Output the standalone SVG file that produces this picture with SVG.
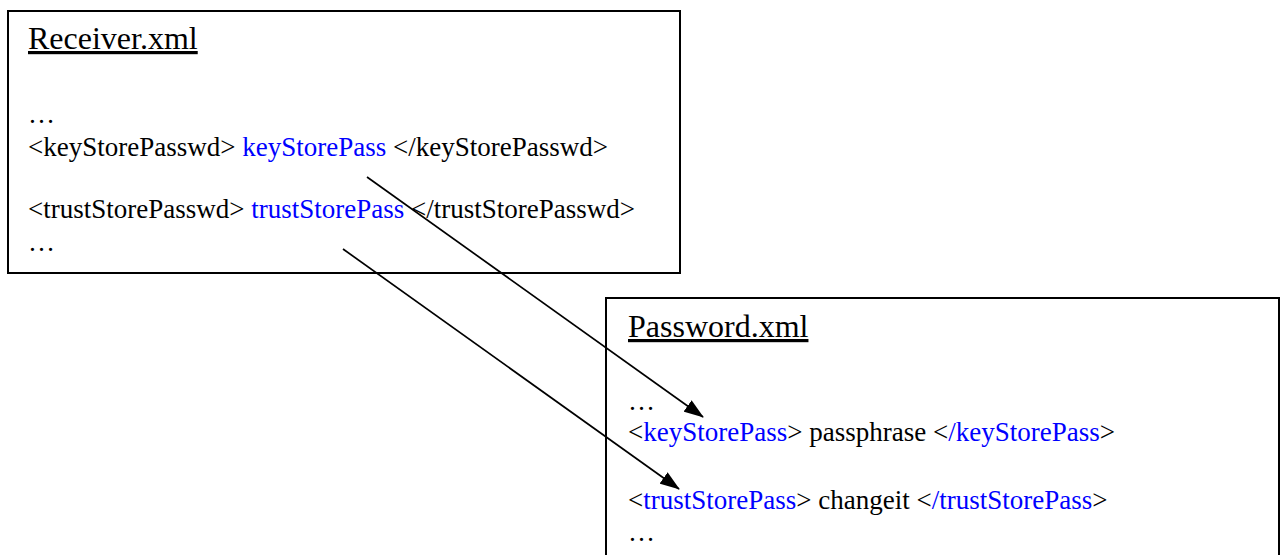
<svg xmlns="http://www.w3.org/2000/svg" width="1281" height="555" viewBox="0 0 1281 555">
<style>
.box{fill:#fff;stroke:#000;stroke-width:2}
.t{font-family:"Liberation Serif","Times New Roman",serif;fill:#000}
.title{font-size:32px;text-decoration:underline}
.body{font-size:27px}
.b{fill:#0000ff}
.conn{stroke:#000;stroke-width:1.7;fill:none}
</style>
<defs>
<marker id="ah" viewBox="0 0 20 14" refX="19" refY="7" markerWidth="20" markerHeight="14" markerUnits="userSpaceOnUse" orient="auto">
<path d="M0,0 L20,7 L0,14 z" fill="#000"/>
</marker>
</defs>
<rect width="1281" height="555" fill="#fff"/>
<g id="receiver">
<rect class="box" x="8" y="11" width="672" height="262"/>
<text class="t title" x="28" y="49">Receiver.xml</text>
<text class="t body" x="28" y="123">…</text>
<text class="t body" x="28" y="156">&lt;keyStorePasswd&gt; <tspan class="b">keyStorePass</tspan> &lt;/keyStorePasswd&gt;</text>
<text class="t body" x="28" y="218">&lt;trustStorePasswd&gt; <tspan class="b">trustStorePass</tspan> &lt;/trustStorePasswd&gt;</text>
<text class="t body" x="28" y="251">…</text>
</g>
<g id="password">
<rect class="box" x="606" y="298" width="673" height="270"/>
<text class="t title" x="628" y="337">Password.xml</text>
<text class="t body" x="628" y="410">…</text>
<text class="t body" x="628" y="441">&lt;<tspan class="b">keyStorePass</tspan>&gt; passphrase &lt;<tspan class="b">/keyStorePass</tspan>&gt;</text>
<text class="t body" x="628" y="509">&lt;<tspan class="b">trustStorePass</tspan>&gt; changeit &lt;<tspan class="b">/trustStorePass</tspan>&gt;</text>
<text class="t body" x="628" y="541">…</text>
</g>
<g id="connectors">
<line class="conn" x1="367" y1="177" x2="703" y2="417" marker-end="url(#ah)"/>
<line class="conn" x1="343" y1="249" x2="679" y2="489" marker-end="url(#ah)"/>
</g>
</svg>
